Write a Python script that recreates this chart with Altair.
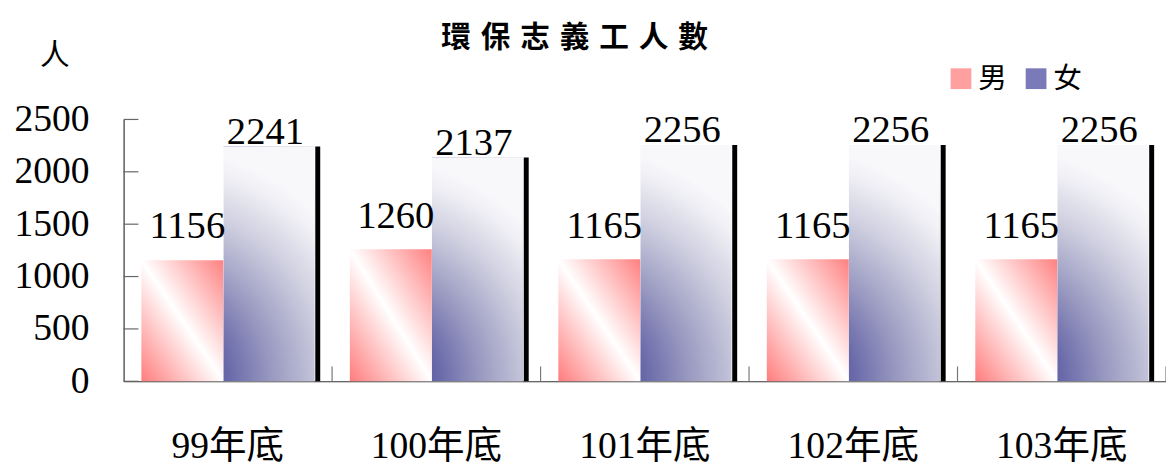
import altair as alt
import pandas as pd

years = ["99年底", "100年底", "101年底", "102年底", "103年底"]
male = [1156, 1260, 1165, 1165, 1165]
female = [2241, 2137, 2256, 2256, 2256]
sexes = ["男", "女"]
y_ticks = [0, 500, 1000, 1500, 2000, 2500]
title_text = "\u2004".join("環保志義工人數")

df = pd.DataFrame({"year": years, "male": male, "female": female})
legend_df = pd.DataFrame({"sex": sexes, "year": [years[0]] * 2})
tick_df = pd.DataFrame({"v": y_ticks})
year_df = pd.DataFrame({"year": years})

W, H = 1055, 265
NUM_FONT = "Liberation Serif"
MIX_FONT = "Liberation Serif, Noto Sans CJK TC"
CJK_FONT = "Noto Sans CJK TC"

red_grad = alt.LinearGradient(
    gradient="linear", x1=0, y1=1, x2=1, y2=0,
    stops=[alt.GradientStop(offset=0, color="#ff7c7c"),
           alt.GradientStop(offset=0.5, color="#ffffff"),
           alt.GradientStop(offset=1, color="#ff8080")])
blue_grad = alt.RadialGradient(
    gradient="radial", x1=0, y1=1, r1=0, x2=0, y2=1, r2=1,
    stops=[alt.GradientStop(offset=0, color="#2e2e96"),
           alt.GradientStop(offset=0.12, color="#3c3c99"),
           alt.GradientStop(offset=0.32, color="#6767a9"),
           alt.GradientStop(offset=0.52, color="#9b9bc2"),
           alt.GradientStop(offset=0.74, color="#cdcddf"),
           alt.GradientStop(offset=0.92, color="#eeeef4"),
           alt.GradientStop(offset=1, color="#f8f8fb")])

xs = alt.Scale(domain=years, paddingInner=0, paddingOuter=0)
ys = alt.Scale(domain=[0, 2500], nice=False)

x_enc = alt.X("year:N", scale=xs, sort=years,
              axis=alt.Axis(title=None, labelAngle=0, labelFontSize=38, labelFont=MIX_FONT,
                            labelColor="#000000", labelPadding=47, ticks=False, tickSize=0,
                            domainColor="#333333", domainWidth=1.2))

legend_layer = alt.Chart(legend_df).mark_bar(width=1, strokeWidth=0).encode(
    x=x_enc,
    y=alt.datum(0),
    color=alt.Color("sex:N", scale=alt.Scale(domain=sexes, range=["#ffa0a0", "#7a7ab8"]),
                    legend=alt.Legend(orient="none", legendX=833, legendY=-56,
                                      direction="horizontal", title=None,
                                      symbolType="square", symbolSize=441, symbolStrokeWidth=0,
                                      symbolOpacity=1,
                                      labelFontSize=29, labelFont=CJK_FONT, labelColor="#000000",
                                      labelOffset=3, columnPadding=14)),
)

base = alt.Chart(df)

red_bars = base.mark_bar(width=83, xOffset=-46, color=red_grad).encode(
    x=x_enc,
    y=alt.Y("male:Q", scale=ys,
            axis=alt.Axis(values=y_ticks, format="d", grid=False, ticks=False, tickSize=0,
                          labelPadding=35, labelFontSize=38, labelFont=NUM_FONT,
                          labelColor="#000000", domainColor="#333333", domainWidth=1.2,
                          title="人", titleAngle=0, titleFontSize=30, titleFont=CJK_FONT,
                          titleFontWeight="normal", titleColor="#000000",
                          titleAlign="center", titleBaseline="bottom", titleX=-70, titleY=-50)),
)
blue_bars = base.mark_bar(width=92, xOffset=41.5, color=blue_grad).encode(
    x=x_enc, y=alt.Y("female:Q", scale=ys),
)
black_edge = base.mark_bar(width=5, xOffset=91, color="#000000").encode(
    x=x_enc, y=alt.Y("female:Q", scale=ys),
)
red_text = base.mark_text(xOffset=-41, dy=-22, baseline="alphabetic", fontSize=39,
                          font=NUM_FONT, color="#000000").encode(
    x=x_enc, y=alt.Y("male:Q", scale=ys), text=alt.Text("male:Q"),
)
blue_text = base.mark_text(xOffset=38, dy=-3, baseline="alphabetic", fontSize=39,
                           font=NUM_FONT, color="#000000").encode(
    x=x_enc, y=alt.Y("female:Q", scale=ys), text=alt.Text("female:Q"),
)
y_tick_marks = alt.Chart(tick_df).mark_rule(color="#666666", strokeWidth=1.2).encode(
    y=alt.Y("v:Q", scale=ys), x=alt.value(0), x2=alt.value(15),
)
x_tick_marks = alt.Chart(year_df).mark_rule(color="#777777", strokeWidth=1.2).encode(
    x=alt.X("year:N", scale=xs, sort=years, bandPosition=1),
    y=alt.value(H - 15), y2=alt.value(H),
)

chart = alt.layer(
    legend_layer, red_bars, blue_bars, black_edge, red_text, blue_text, y_tick_marks, x_tick_marks
).properties(
    width=W, height=H,
    autosize=alt.AutoSizeParams(type="none"),
    padding={"left": 117, "top": 110, "right": 0, "bottom": 88},
    title=alt.Title(title_text, fontSize=30, fontWeight="bold", font=CJK_FONT,
                    color="#000000", anchor="middle", dx=-71, dy=17),
).configure_view(stroke=None)

chart.save("out.html", embed_options={"renderer": "svg", "actions": False})
